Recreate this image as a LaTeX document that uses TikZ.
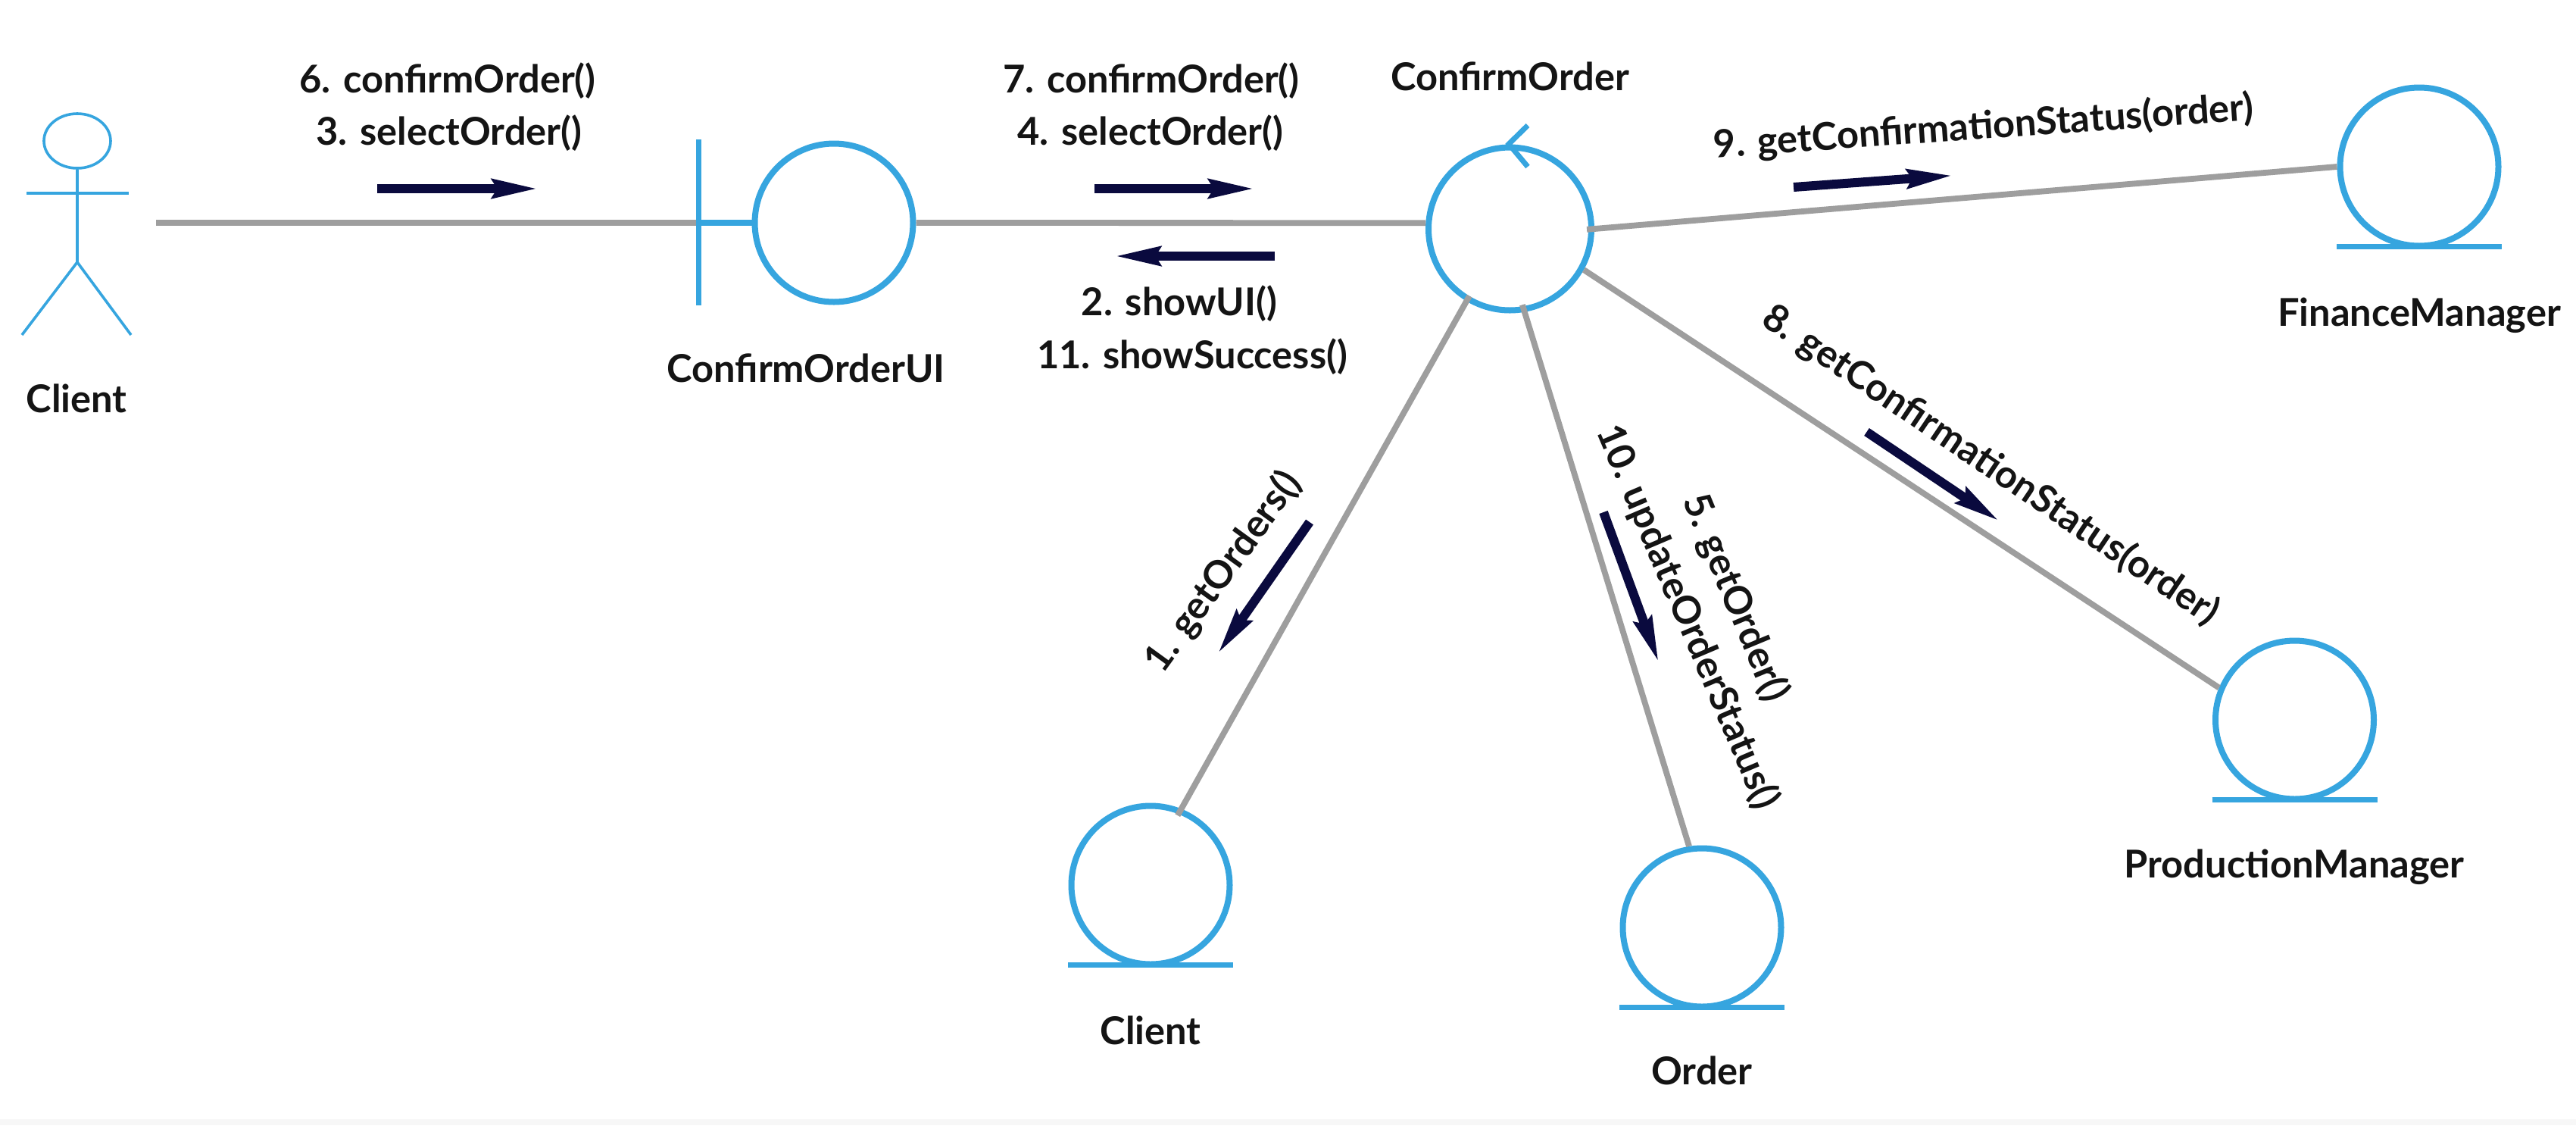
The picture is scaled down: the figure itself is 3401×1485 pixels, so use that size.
\documentclass[tikz,border=0pt]{standalone}
\usepackage{fontspec}
\setmainfont{Lato}
\usetikzlibrary{arrows.meta,shapes.geometric}
\definecolor{umlblue}{HTML}{36A5DF}
\definecolor{conngray}{HTML}{9E9E9E}
\definecolor{msgnavy}{HTML}{0A0A3E}
\definecolor{stripgray}{HTML}{F7F7F7}
\tikzset{
  x=0.5pt,y=-0.5pt,
  lbl/.style={inner sep=0pt,outer sep=0pt,anchor=base,font=\fontsize{25.3}{29}\selectfont\bfseries,text=black!92},
  rotlbl/.style={lbl,anchor=center},
  entity/.style={circle,draw=umlblue,line width=4pt,minimum size=104.5pt,inner sep=0pt},
  ctrlc/.style={circle,draw=umlblue,line width=4pt,minimum size=107.5pt,inner sep=0pt},
  baseline stroke/.style={draw=umlblue,line width=3.5pt},
  bluethick/.style={draw=umlblue,line width=3.5pt},
  actorline/.style={draw=umlblue,line width=1.8pt},
  conn/.style={draw=conngray,line width=3.9pt},
  msg/.style={draw=msgnavy,line width=6pt,shorten >=-3pt,-{Stealth[length=30pt,width=12pt,inset=3pt,fill=msgnavy]}},
}
\begin{document}
\begin{tikzpicture}
\useasboundingbox (0,0) rectangle (3401,1485);
\fill[white] (0,0) rectangle (3401,1485);
\fill[stripgray] (0,1477) rectangle (3401,1485);

% actor
\node[ellipse,actorline,inner sep=0pt,minimum width=44pt,minimum height=36pt] (head) at (102,186) {};
\coordinate (shoulderL) at (35,255);
\coordinate (shoulderR) at (170,255);
\coordinate (hip) at (102,346);
\coordinate (footL) at (29,442);
\coordinate (footR) at (173,442);
\draw[actorline] (head.south) -- (hip);
\draw[actorline] (shoulderL) -- (shoulderR);
\draw[actorline] (footL) -- (hip) -- (footR);
\node[lbl] (clientA) at (101,544) {Client};

% boundary
\node[entity] (bnd) at (1101,294) {};
\coordinate (barT) at (922,184);
\coordinate (barB) at (922,403);
\coordinate (barM) at (922,294);
\coordinate (actorEnd) at (206,294);
\node[lbl] (bndL) at (1064,504) {ConfirmOrderUI};

% control
\node[ctrlc] (ctrl) at (1993.5,302) {};
\coordinate (chevA) at (2017,165.5);
\coordinate (chevT) at (1992,190);
\coordinate (chevB) at (2017,220);
\node[lbl] (ctrlL) at (1993.5,119) {ConfirmOrder};

% entities
\node[entity] (cli) at (1519,1168) {};
\node[entity] (ord) at (2247,1224) {};
\node[entity] (fin) at (3194,220) {};
\node[entity] (prod) at (3029.5,950) {};
\draw[baseline stroke] (cli.south) ++(-109,-3) -- ++(218,0);
\draw[baseline stroke] (ord.south) ++(-109,-3) -- ++(218,0);
\draw[baseline stroke] (fin.south) ++(-109,-3) -- ++(218,0);
\draw[baseline stroke] (prod.south) ++(-109,-3) -- ++(218,0);
\node[lbl] (cliL) at (1519,1378) {Client};
\node[lbl] (ordL) at (2247,1431) {Order};
\node[lbl] (finL) at (3194,430) {FinanceManager};
\node[lbl] (prodL) at (3029,1158) {ProductionManager};

% connectors
\draw[conn] (actorEnd) -- (barM);
\draw[conn] (bnd.0) -- (ctrl.176);
\draw[conn,shorten <=-5pt] (ctrl.0) -- (fin.180);
\draw[conn] (ctrl.-29.5) -- (prod.157);
\draw[conn,shorten <=-4pt,shorten >=-5pt] (ctrl.239.5) -- (cli.68);
\draw[conn,shorten <=-5pt] (ctrl.-80.6) -- (ord.99);

% boundary bar and stub, chevron
\draw[bluethick] (barT) -- (barB);
\draw[bluethick,line width=4pt] (barM) -- (bnd.180);
\draw[bluethick,line cap=butt] (chevA) -- (chevT) -- (chevB);

% message arrows
\coordinate (m1a) at (498,249); \coordinate (m1b) at (705,249);
\coordinate (m2a) at (1445,249); \coordinate (m2b) at (1651,249);
\coordinate (m3a) at (1683,338); \coordinate (m3b) at (1477,338);
\coordinate (m4a) at (2368,247); \coordinate (m4b) at (2573,232);
\coordinate (m5a) at (2464.5,570); \coordinate (m5b) at (2635,684.6);
\coordinate (m6a) at (1729,689); \coordinate (m6b) at (1611,858);
\coordinate (m7a) at (2117,676); \coordinate (m7b) at (2188,869);
\draw[msg] (m1a) -- (m1b);
\draw[msg] (m2a) -- (m2b);
\draw[msg] (m3a) -- (m3b);
\draw[msg] (m4a) -- (m4b);
\draw[msg] (m5a) -- (m5b);
\draw[msg] (m6a) -- (m6b);
\draw[msg] (m7a) -- (m7b);

% message labels
\node[lbl] (t6) at (591,122.6) {6. confirmOrder()};
\node[lbl] (t3) at (593,191.6) {3. selectOrder()};
\node[lbl] (t7) at (1520,122.6) {7. confirmOrder()};
\node[lbl] (t4) at (1519,191.6) {4. selectOrder()};
\node[lbl] (t2) at (1557,416.5) {2. showUI()};
\node[lbl] (t11) at (1574,486.6) {11. showSuccess()};
\node[rotlbl,rotate=4] (t9) at (2619,168) {9. getConfirmationStatus(order)};
\node[rotlbl,rotate=-34] (t8) at (2628,614) {8. getConfirmationStatus(order)};
\node[rotlbl,rotate=54] (t1) at (1615,755) {1. getOrders()};
\node[rotlbl,rotate=-67.5] (t5) at (2291,789) {5. getOrder()};
\node[rotlbl,rotate=-67] (t10) at (2228,814) {10. updateOrderStatus()};
\end{tikzpicture}
\end{document}
